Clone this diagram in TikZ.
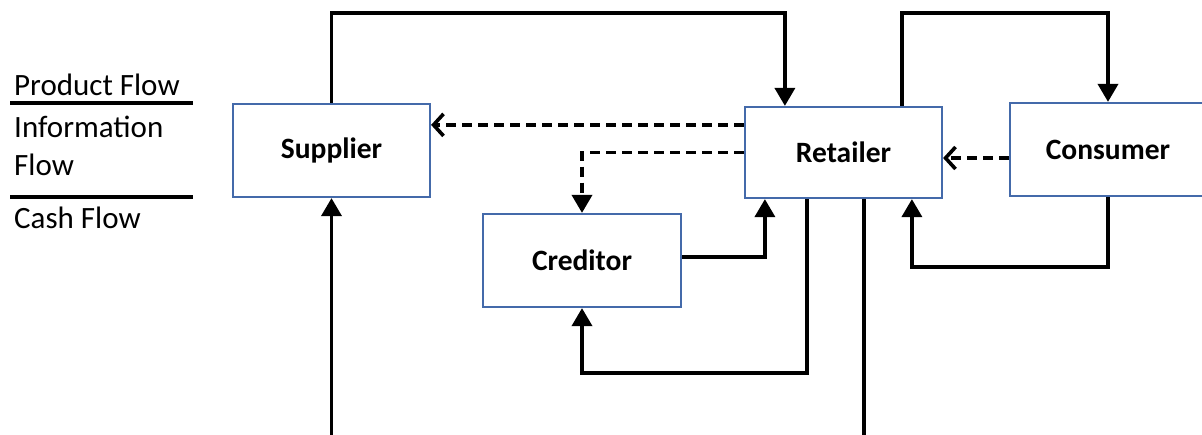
\documentclass[tikz,border=0pt]{standalone}
\usepackage{fontspec}
\setmainfont{Carlito}
\usetikzlibrary{arrows.meta,calc}
\definecolor{boxblue}{RGB}{68,106,170}
\begin{document}
\begin{tikzpicture}[x=1pt,y=-1pt,
  box/.style={draw=boxblue,line width=2.2pt,minimum width=197pt,minimum height=93pt,inner sep=0pt,font=\fontsize{29.5}{35}\selectfont\bfseries},
  flow/.style={line width=3.6pt,-{Triangle[length=18pt,width=20pt]}},
  plain/.style={line width=3.6pt},
  info/.style={line width=3.6pt,dash pattern=on 10pt off 6pt,-{Straight Barb[length=10pt,width=22pt]}},
  infof/.style={line width=3.6pt,dash pattern=on 10pt off 6pt,-{Triangle[length=18pt,width=20pt]}},
  legtext/.style={anchor=base west,inner sep=0pt,font=\fontsize{31}{37}\selectfont}]
\useasboundingbox (0,0) rectangle (1202,434);
\clip (0,0) rectangle (1202,434);
% legend
\node[legtext] (lp) at (14,95) {Product Flow};
\node[legtext] (li1) at (14,137) {Information};
\node[legtext] (li2) at (14,175) {Flow};
\node[legtext] (lc) at (14,228) {Cash Flow};
\draw[plain] (10,103) -- (193,103);
\draw[plain] (10,197) -- (193,197);
% boxes
\node[box] (supplier) at (331.5,150.5) {Supplier};
\node[box,minimum height=91pt] (retailer) at (843.5,152.5) {Retailer};
\node[box,minimum width=196pt] (consumer) at (1108,149.5) {Consumer};
\node[box,minimum width=198pt] (creditor) at (582,260.5) {Creditor};
% helper coordinates
\coordinate (topA) at (0,13);
\coordinate (low) at (0,373);
\coordinate (edge) at (0,440);
\coordinate (cl) at (0,267);
\coordinate (rt1) at ([xshift=41pt]retailer.north west);
\coordinate (rt2) at ([xshift=158pt]retailer.north west);
\coordinate (rw1) at ([yshift=-19pt]retailer.north west);
\coordinate (cw1) at ([yshift=-8.5pt]consumer.west);
\coordinate (ce1) at ([yshift=3.5pt]creditor.east);
\coordinate (rs1) at ([xshift=21pt]retailer.south west);
\coordinate (rb1) at ([xshift=63pt]retailer.south west);
\coordinate (rb2) at ([xshift=120pt]retailer.south west);
\coordinate (rs2) at ([xshift=168pt]retailer.south west);
% product flow
\draw[flow] (supplier.north) -- (supplier.north |- topA) -| (rt1);
\draw[flow] (rt2) -- (rt2 |- topA) -| (consumer.north);
% information flow
\draw[info] (rw1) -- (supplier.east |- rw1);
\draw[infof] (retailer.west) -| (creditor.north);
\draw[info] (cw1) -- (retailer.east |- cw1);
% cash flow
\draw[flow] (ce1) -| (rs1);
\draw[flow] (rb1) -- (rb1 |- low) -| (creditor.south);
\draw[plain] (rb2) -- (rb2 |- edge);
\draw[flow] (supplier.south |- edge) -- (supplier.south);
\draw[flow] (consumer.south) -- (consumer.south |- cl) -| (rs2);
\end{tikzpicture}
\end{document}
